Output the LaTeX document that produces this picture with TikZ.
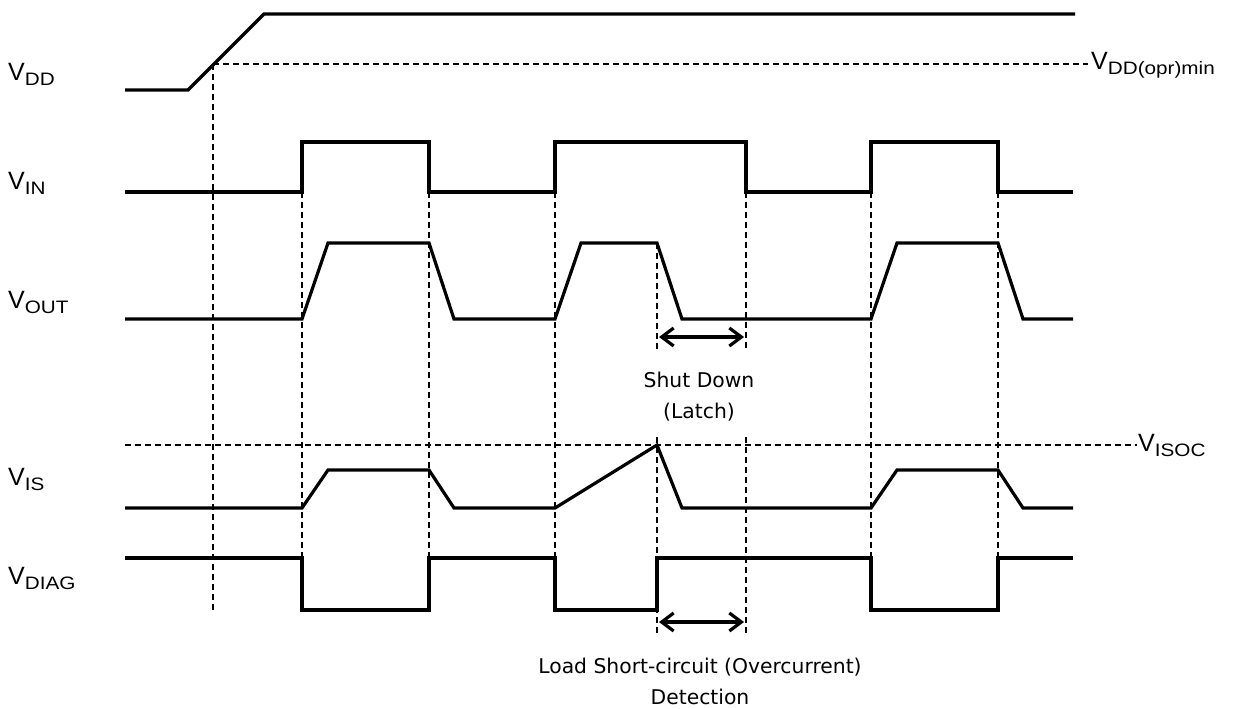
\documentclass[tikz,border=0pt]{standalone}
\usepackage{fontspec}
\setmainfont{Liberation Sans}
\newfontfamily\notefont{DejaVu Sans}
\usetikzlibrary{arrows.meta}
\newcommand{\signame}[2]{#1\raisebox{-5pt}{\scalebox{1.15}[1]{\fontsize{18}{21}\selectfont #2}}}
\tikzset{
  wave/.style={line width=3.2pt, line join=miter, line cap=butt},
  guide/.style={line width=2pt, dash pattern=on 6pt off 4pt},
  siglabel/.style={anchor=base west, inner sep=0pt, font=\fontsize{25}{29}\selectfont},
  note/.style={align=center, inner sep=0pt, font=\notefont\fontsize{20.3}{31}\selectfont},
  span/.style={line width=3.2pt, {Straight Barb[length=12pt,width=18pt,line width=3.2pt]}-{Straight Barb[length=12pt,width=18pt,line width=3.2pt]}}
}
\begin{document}
\begin{tikzpicture}[x=1pt,y=-1pt]
\useasboundingbox (0,0) rectangle (1234,709);
% guides
\draw[guide] (213,64) -- (1088,64);
\draw[guide] (125,445) -- (1137,445);
\draw[guide] (213,64) -- (213,611);
\foreach \x in {302,429,555,871,998} \draw[guide] (\x,192) -- (\x,610);
\draw[guide] (657,243) -- (657,350);
\draw[guide] (657,437) -- (657,634);
\draw[guide] (746,192) -- (746,350);
\draw[guide] (746,437) -- (746,634);
% waves
\draw[wave] (125,90) -- (188,90) -- (264,14) -- (1075,14);
\draw[wave] (125,192) -- (302,192) -- (302,142) -- (429,142) -- (429,192) -- (555,192) -- (555,142) -- (746,142) -- (746,192) -- (871,192) -- (871,142) -- (998,142) -- (998,192) -- (1073,192);
\draw[wave] (125,319) -- (302,319) -- (328,243) -- (429,243) -- (454,319) -- (555,319) -- (581,243) -- (657,243) -- (682,319) -- (871,319) -- (897,243) -- (998,243) -- (1023,319) -- (1073,319);
\draw[wave] (125,508) -- (302,508) -- (328,470) -- (429,470) -- (454,508) -- (555,508) -- (657,445) -- (682,508) -- (871,508) -- (897,470) -- (998,470) -- (1023,508) -- (1073,508);
\draw[wave] (125,558) -- (302,558) -- (302,610) -- (429,610) -- (429,558) -- (555,558) -- (555,610) -- (657,610) -- (657,558) -- (871,558) -- (871,610) -- (998,610) -- (998,558) -- (1073,558);
% arrows
\coordinate (sdA) at (659,337);
\coordinate (sdB) at (744,337);
\coordinate (ldA) at (659,622);
\coordinate (ldB) at (744,622);
\draw[span] (sdA) -- (sdB);
\draw[span] (ldA) -- (ldB);
% labels
\node[siglabel] (lvdd) at (8,81) {\signame{V}{DD}};
\node[siglabel] (lvin) at (8,189) {\signame{V}{IN}};
\node[siglabel] (lvout) at (8,308) {\signame{V}{OUT}};
\node[siglabel] (lvis) at (8,485) {\signame{V}{IS}};
\node[siglabel] (lvdiag) at (8,584) {\signame{V}{DIAG}};
\node[siglabel] (lvddmin) at (1091,70) {\signame{V}{DD(opr)min}};
\node[siglabel] (lvisoc) at (1138,451) {\signame{V}{ISOC}};
\node[note] (shut) at (699,397) {Shut Down\\(Latch)};
\node[note] (load) at (700,681) {Load Short-circuit (Overcurrent)\\Detection};
\end{tikzpicture}
\end{document}
